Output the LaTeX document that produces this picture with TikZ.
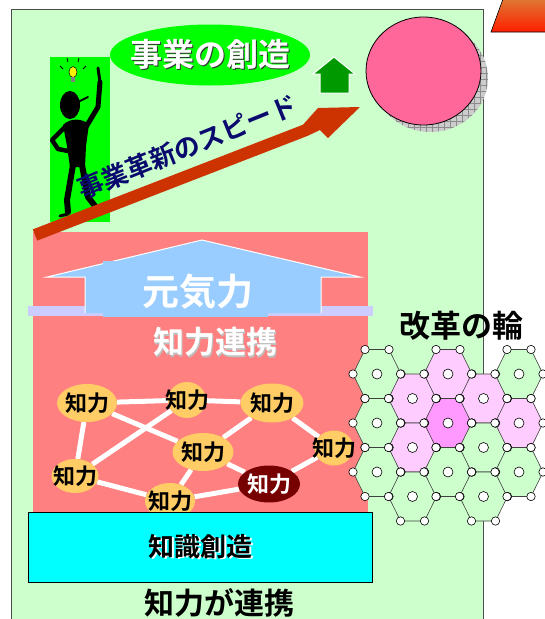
\documentclass[tikz,border=0pt]{standalone}
\usepackage{fontspec}
\newfontfamily\jp{Noto Sans CJK JP}[BoldFont={Noto Sans CJK JP Bold}]
\usetikzlibrary{shapes.geometric,patterns.meta}
\pgfdeclarelayer{back}
\pgfdeclarelayer{links}
\pgfsetlayers{back,links,main}
\definecolor{paleground}{RGB}{204,255,204}
\definecolor{salmon}{RGB}{255,128,128}
\definecolor{vivid}{RGB}{0,255,0}
\definecolor{housegreen}{RGB}{0,153,0}
\definecolor{rosepink}{RGB}{255,102,153}
\definecolor{rust}{RGB}{204,51,0}
\definecolor{navy}{RGB}{10,10,110}
\definecolor{roofblue}{RGB}{153,204,255}
\definecolor{lavender}{RGB}{204,204,255}
\definecolor{chiyellow}{RGB}{255,204,102}
\definecolor{maroon}{RGB}{119,0,0}
\definecolor{aqua}{RGB}{0,255,255}
\definecolor{hexgreen}{RGB}{204,255,204}
\definecolor{hexpink}{RGB}{255,204,255}
\definecolor{hexmagenta}{RGB}{255,153,255}
\definecolor{triorange}{RGB}{222,120,50}
\definecolor{trired}{RGB}{255,30,0}
\newcommand\nowidth[1]{\makebox[0pt]{#1}}
\newcommand\shadowed[2]{\makebox[0pt][l]{\hspace{1.6pt}\raisebox{-1.6pt}{\textcolor{#1}{#2}}}#2}
\begin{document}
\begin{tikzpicture}[x=1pt,y=-1pt,
  chi/.style={ellipse, fill=chiyellow, inner sep=0pt, font=\jp\bfseries\fontsize{22}{22}\selectfont},
  link/.style={white, line width=5pt},
  hexcell/.style={draw=black!75, line width=0.6pt},
  knot/.style={fill=white, draw=black, line width=0.6pt},
  limb/.style={line width=#1, line cap=round, line join=round}]
\useasboundingbox (0,0) rectangle (545,619);

\begin{pgfonlayer}{back}
\filldraw[fill=paleground, draw=black!70, line width=1pt] (11,9) rectangle (483,640);
\fill[salmon] (33,232) rectangle (368,512);
\end{pgfonlayer}

\shade[top color=triorange, bottom color=trired, draw=black, line width=0.6pt] (491,32) -- (503,-1) -- (590,-1) -- (602,32) -- cycle;

\node (sozo) at (210,55) [ellipse, fill=vivid, inner sep=0pt, minimum width=200pt, minimum height=61pt, text=white, font=\jp\bfseries\fontsize{32}{32}\selectfont] {\nowidth{\shadowed{black!80}{事業の創造}}};

% the man with the idea
\fill[vivid] (50,57) rectangle (110,222);
\filldraw[fill=yellow, draw=black, line width=0.5pt] (73,72) ellipse (4 and 5.5);
\fill[gray] (71,77) rectangle (75,82);
\draw[line width=0.8pt] (60,66) -- (63,69) (67,58) -- (68,62) (79,58) -- (78,62) (86,66) -- (83,69);
\fill (70,105) ellipse (10 and 14);
\draw[limb=2pt] (78,102) -- (88,97);
\fill (63,125) .. controls (70,118) and (81,118) .. (89,124) -- (86,146) -- (85,167) -- (70,167) -- (67,146) -- cycle;
\draw[limb=5pt] (86,127) -- (98,107) -- (100,82);
\draw[limb=3pt] (100,82) -- (98,68);
\draw[limb=4.5pt] (64,128) -- (52,140) -- (58,149) -- (68,151);
\draw[limb=6pt] (73,165) -- (67,200) -- (68,212);
\draw[limb=3pt] (68,214) -- (60,216);
\draw[limb=6pt] (82,165) -- (88,197) -- (95,206);
\draw[limb=3pt] (95,207) -- (103,206);

\filldraw[fill=housegreen, draw=white, line width=1pt] (334,57) -- (355,74) -- (349,74) -- (349,93) -- (320,93) -- (320,74) -- (313,74) -- cycle;

\fill[gray!40] (430.5,78) ellipse (57.5 and 54);
\fill[pattern={Lines[angle=0, distance=6pt, line width=0.5pt]}, pattern color=gray!90] (430.5,78) ellipse (57.5 and 54);
\fill[pattern={Lines[angle=90, distance=6pt, line width=0.5pt]}, pattern color=gray!90] (430.5,78) ellipse (57.5 and 54);
\filldraw[fill=rosepink, draw=black, line width=0.8pt] (423.5,71) ellipse (57.5 and 54);

\fill[rust] (32.8,229.4) -- (303,124.7) -- (318,108) -- (360,107) -- (328,138) -- (320,130) -- (307.5,135.9) -- (37.2,240.6) -- cycle;
\node (speed) at (187,147) [rotate=22, text=navy, font=\jp\bfseries\fontsize{26}{26}\selectfont] {事業革新のスピード};

\fill[lavender] (28,306) rectangle (373,316);
\fill[roofblue] (47,277) -- (202,240) -- (360,277) -- (321,277) -- (321,313) -- (85,313) -- (85,277) -- cycle;
\draw[white, line width=1pt] (85,313) -- (85,277) -- (47,277) -- (202,240) -- (360,277) -- (321,277) -- (321,313);
\fill[roofblue] (103,261) rectangle (268,317);
\node (genki) at (198,292) [text=white, font=\jp\bfseries\fontsize{37}{37}\selectfont] {元気力};
\node (renkei) at (215,343) [text=white, font=\jp\bfseries\fontsize{31}{31}\selectfont] {\shadowed{black!25}{知力連携}};

\node (c1) at (87,403) [chi, minimum width=60pt, minimum height=38pt] {\nowidth{知力}};
\node (c2) at (187,400) [chi, minimum width=38pt, minimum height=36pt] {\nowidth{知力}};
\node (c3) at (272,403) [chi, minimum width=63pt, minimum height=39pt] {\nowidth{知力}};
\node (c4) at (203,452) [chi, minimum width=61pt, minimum height=38pt] {\nowidth{知力}};
\node (c5) at (334,448) [chi, minimum width=39pt, minimum height=35pt] {\nowidth{知力}};
\node (c6) at (75,476) [chi, minimum width=47pt, minimum height=34pt] {\nowidth{知力}};
\node (c7) at (170,501) [chi, minimum width=50pt, minimum height=36pt] {\nowidth{知力}};
\node (c8) at (269,484) [chi, fill=maroon, text=white, minimum width=62pt, minimum height=37pt] {\nowidth{知力}};

\begin{pgfonlayer}{links}
\draw[link] (c1) -- (c2);
\draw[link] (c2) -- (c3);
\draw[link] (c1) -- (c4);
\draw[link] (c4) -- (c8);
\draw[link] (c1) -- (c6);
\draw[link] (c2) -- (c6);
\draw[link] (c3) -- (c4);
\draw[link] (c3) -- (c5);
\draw[link] (c4) -- (c7);
\draw[link] (c6) -- (c7);
\draw[link] (c7) -- (c8);
\draw[link] (c8) -- (c5);
\end{pgfonlayer}

\node (chishiki) at (200.5,547) [draw=black, line width=0.8pt, fill=aqua, minimum width=344pt, minimum height=70pt, font=\jp\bfseries\fontsize{26}{26}\selectfont] {\raisebox{-4pt}{\shadowed{white}{知識創造}}};
\node (gaRenkei) at (219,603) [font=\jp\bfseries\fontsize{30}{30}\selectfont] {知力が連携};

% ring of reform
\node (wa) at (461,326) [font=\jp\bfseries\fontsize{31}{31}\selectfont] {改革の輪};
\foreach \hx/\hy/\hc in {377/374/hexgreen, 377/423/hexgreen, 377/472/hexgreen,
    412.5/398.5/hexpink, 412.5/447.5/hexpink, 412.5/496.5/hexgreen,
    448/374/hexpink, 448/423/hexmagenta, 448/472/hexgreen,
    483.5/398.5/hexpink, 483.5/447.5/hexgreen, 483.5/496.5/hexgreen,
    519/374/hexgreen, 519/423/hexpink, 519/472/hexgreen}
  \filldraw[hexcell, fill=\hc] ({\hx+24},\hy) -- ({\hx+12},{\hy-24.5}) -- ({\hx-12},{\hy-24.5}) -- ({\hx-24},\hy) -- ({\hx-12},{\hy+24.5}) -- ({\hx+12},{\hy+24.5}) -- cycle;
\foreach \hx/\hy in {377/374, 377/423, 377/472, 412.5/398.5, 412.5/447.5, 412.5/496.5,
    448/374, 448/423, 448/472, 483.5/398.5, 483.5/447.5, 483.5/496.5,
    519/374, 519/423, 519/472} {
  \filldraw[knot] (\hx,\hy) circle (5);
  \foreach \dx/\dy in {24/0, 12/-24.5, -12/-24.5, -24/0, -12/24.5, 12/24.5}
    \filldraw[knot] ({\hx+\dx},{\hy+\dy}) circle (4.2);
}
\end{tikzpicture}
\end{document}
